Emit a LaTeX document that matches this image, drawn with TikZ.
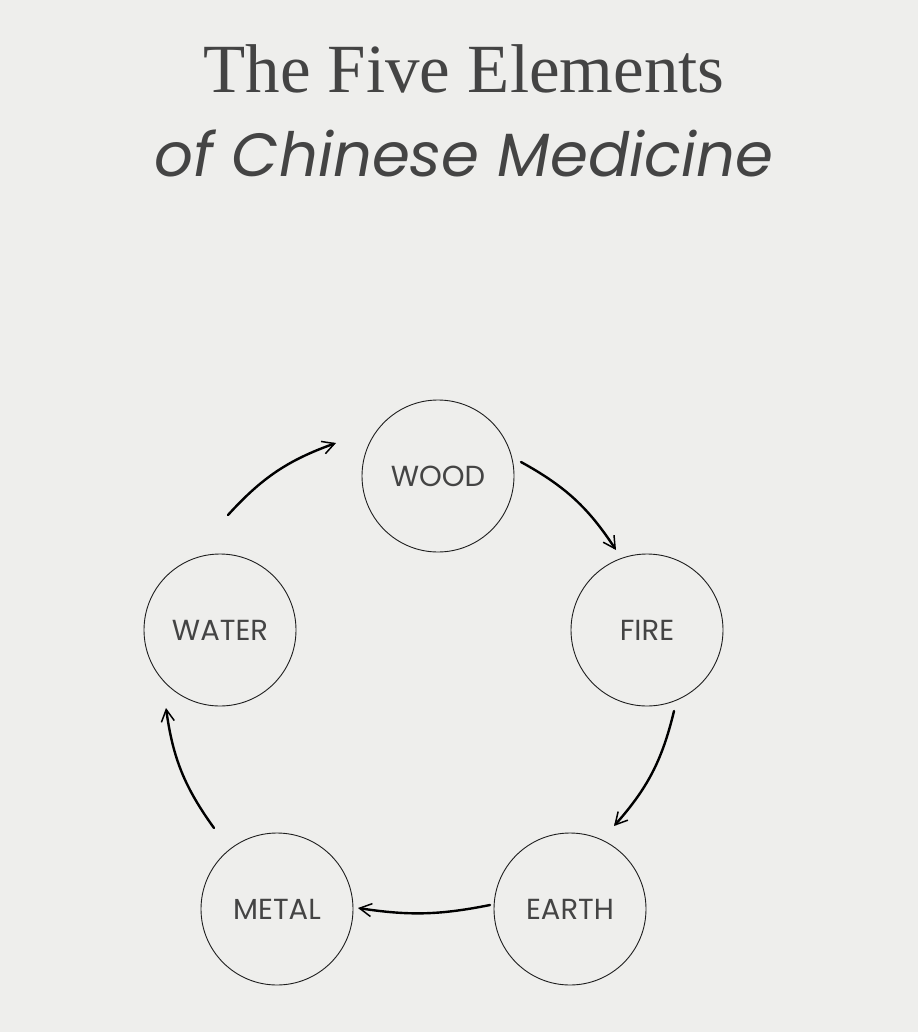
\documentclass[tikz,border=0pt]{standalone}
\usepackage{fontspec}
\setmainfont{Liberation Serif}
\newfontfamily\geo{Poppins}
\usetikzlibrary{arrows.meta}
\definecolor{bg}{HTML}{EEEEEC}
\definecolor{ink}{HTML}{444444}
\definecolor{line}{HTML}{1E1E1E}
\tikzset{
  element/.style={circle, draw=line, line width=0.9pt, minimum size=152pt, inner sep=0pt,
    text=ink, font=\geo\fontsize{29}{30}\selectfont},
  flow/.style={line width=2.4pt, draw=black, line cap=round,
    -{Straight Barb[length=12pt,width=13pt,line width=1.5pt]}, bend left=14}
}
\begin{document}
\begin{tikzpicture}[x=1pt,y=-1pt]
\path[fill=bg,use as bounding box] (0,0) rectangle (918,1032);
\node[anchor=base, text=ink, font=\fontsize{69}{70}\selectfont] (t1) at (464,93) {The Five Elements};
\node[anchor=base, text=ink, font=\geo\itshape\fontsize{61}{64}\selectfont] (t2) at (464,177) {of Chinese Medicine};

\node[element] (wood) at (438,476) {WOOD};
\node[element] (fire) at (647,630) {FIRE};
\node[element] (earth) at (570,909) {EARTH};
\node[element] (metal) at (277,909) {METAL};
\node[element] (water) at (220,630) {WATER};

\coordinate (a1) at (228,515); \coordinate (b1) at (336,443);
\coordinate (a2) at (521,462); \coordinate (b2) at (616,550);
\coordinate (a3) at (674,711); \coordinate (b3) at (614,826);
\coordinate (a4) at (490,905); \coordinate (b4) at (358,908);
\coordinate (a5) at (214,828); \coordinate (b5) at (166,708);

\draw[flow] (a1) to (b1);
\draw[flow] (a2) to (b2);
\draw[flow] (a3) to (b3);
\draw[flow, bend left=10] (a4) to (b4);
\draw[flow] (a5) to (b5);
\end{tikzpicture}
\end{document}
